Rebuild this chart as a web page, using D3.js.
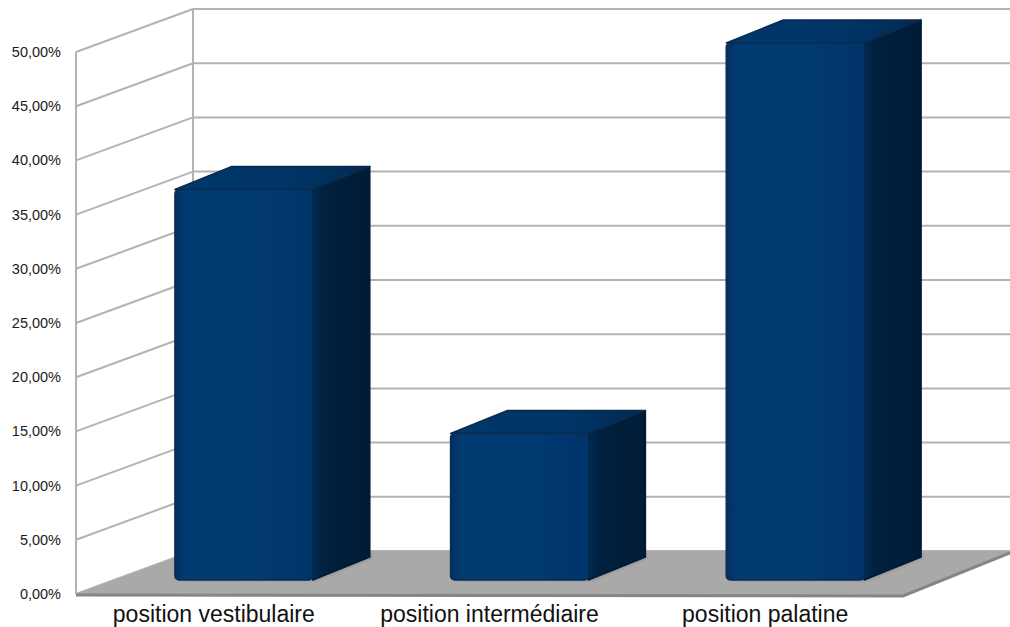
<!DOCTYPE html>
<html>
<head>
<meta charset="utf-8">
<script src="https://cdn.jsdelivr.net/npm/d3@7"></script>
<style>
  body { margin: 0; background: #fff; }
  svg { display: block; }
</style>
</head>
<body>
<div id="plot"></div>
<script>
var categories = ['position vestibulaire', 'position intermédiaire', 'position palatine']
var values = [36.36, 13.64, 50.0]
var tickValues = [0, 5, 10, 15, 20, 25, 30, 35, 40, 45, 50]
var tickLabels = ['0,00%', '5,00%', '10,00%', '15,00%', '20,00%', '25,00%',
  '30,00%', '35,00%', '40,00%', '45,00%', '50,00%']

var width = 1010
var height = 627

// 3d offsets
var wallDx = 117, wallDy = -43
var barShift = 30
var barDx = 57, barDy = -23

var xScale = d3.scaleBand()
  .domain(categories)
  .range([76, 903])
  .paddingInner(0.5)
  .paddingOuter(0.25)

// front plane of the chart
var yScale = d3.scaleLinear().domain([0, 50]).range([594, 52])
// plane where the bar fronts sit
var yBar = d3.scaleLinear().domain([0, 50]).range([580, 43])

var svg = d3.select('#plot')
  .append('svg')
  .attr('width', width)
  .attr('height', height)
  .style('font-family', 'Liberation Sans, Arial, sans-serif')

var defs = svg.append('defs')
function grad(id, stops) {
  var g = defs.append('linearGradient').attr('id', id)
    .attr('x1', 0).attr('x2', 1).attr('y1', 0).attr('y2', 0)
  stops.forEach(function(s) {
    g.append('stop').attr('offset', s[0]).attr('stop-color', s[1])
  })
}
grad('gFront', [[0, '#00315f'], [0.08, '#023b72'], [0.6, '#013a71'], [1, '#00346a']])
grad('gSide', [[0, '#022a52'], [0.2, '#00213f'], [1, '#001b36']])
grad('gTop', [[0, '#00386c'], [0.6, '#003566'], [1, '#002a52']])

var x0 = xScale.range()[0], x1 = xScale.range()[1]
var backX = x0 + wallDx

// grid: left wall diagonals + back wall lines
var grid = svg.append('g')
  .attr('stroke', '#b3b3b3')
  .attr('stroke-width', 2)
  .attr('fill', 'none')

grid.selectAll('.diag')
  .data(tickValues)
  .enter()
  .append('line')
  .attr('x1', x0)
  .attr('y1', function(d) { return yScale(d) })
  .attr('x2', backX)
  .attr('y2', function(d) { return yScale(d) + wallDy })

grid.selectAll('.back')
  .data(tickValues)
  .enter()
  .append('line')
  .attr('x1', backX)
  .attr('y1', function(d) { return yScale(d) + wallDy })
  .attr('x2', width)
  .attr('y2', function(d) { return yScale(d) + wallDy })

grid.append('line')
  .attr('x1', x0).attr('x2', x0)
  .attr('y1', yScale(0)).attr('y2', yScale(50))
grid.append('line')
  .attr('x1', backX).attr('x2', backX)
  .attr('y1', yScale(0) + wallDy).attr('y2', yScale(50) + wallDy)

// floor
var floorPts = [
  [x0, yScale(0)],
  [x1, yScale(0) + 2],
  [width, yScale(0) + wallDy + 2],
  [width, yScale(0) + wallDy],
  [backX, yScale(0) + wallDy]
]
svg.append('polygon')
  .attr('points', floorPts.map(function(p) { return p.join(',') }).join(' '))
  .attr('fill', '#a9a9a9')

svg.append('path')
  .attr('d', 'M' + x0 + ',' + (yScale(0) + 1) + 'L' + x1 + ',' + (yScale(0) + 2) +
    'L' + width + ',' + (yScale(0) + wallDy + 2))
  .attr('fill', 'none')
  .attr('stroke', '#858585')
  .attr('stroke-width', 3)

// bars
var bars = svg.selectAll('.bar')
  .data(values)
  .enter()
  .append('g')
  .attr('class', 'bar')

function pts(arr) {
  return arr.map(function(p) { return p[0].toFixed(1) + ',' + p[1].toFixed(1) }).join(' ')
}

bars.each(function(d, i) {
  var g = d3.select(this)
  var bx = xScale(categories[i]) + barShift
  var bw = xScale.bandwidth()
  var top = yBar(d)
  var base = yBar(0)

  // soft shadow on the floor
  g.append('polygon')
    .attr('points', pts([[bx + 2, base + 2], [bx + bw + 4, base + 2],
      [bx + bw + barDx + 3, base + barDy + 2], [bx + bw + barDx + 3, base + barDy - 4]]))
    .attr('fill', '#999')
    .attr('opacity', 0.6)

  g.append('polygon')
    .attr('points', pts([[bx + bw, top], [bx + bw + barDx, top + barDy],
      [bx + bw + barDx, base + barDy], [bx + bw, base]]))
    .attr('fill', 'url(#gSide)')
    .attr('stroke', '#001a33')
    .attr('stroke-width', 1.5)
    .attr('stroke-linejoin', 'round')

  g.append('polygon')
    .attr('points', pts([[bx, top], [bx + barDx, top + barDy],
      [bx + bw + barDx, top + barDy], [bx + bw, top]]))
    .attr('fill', 'url(#gTop)')
    .attr('stroke', '#0a2a4d')
    .attr('stroke-width', 1.5)
    .attr('stroke-linejoin', 'round')

  g.append('rect')
    .attr('x', bx)
    .attr('y', top)
    .attr('width', bw)
    .attr('height', base - top)
    .attr('rx', 4)
    .attr('fill', 'url(#gFront)')
    .attr('stroke', '#0b2c52')
    .attr('stroke-width', 1.5)
})

// y labels
svg.append('g')
  .selectAll('text')
  .data(tickValues)
  .enter()
  .append('text')
  .attr('x', 61)
  .attr('y', function(d) { return yScale(d) })
  .attr('dy', '0.35em')
  .attr('text-anchor', 'end')
  .attr('font-size', 14.5)
  .attr('fill', '#1a1a1a')
  .text(function(d, i) { return tickLabels[i] })

// category labels
svg.append('g')
  .selectAll('text')
  .data(categories)
  .enter()
  .append('text')
  .attr('x', function(d) { return xScale(d) + xScale.bandwidth() / 2 })
  .attr('y', 622)
  .attr('text-anchor', 'middle')
  .attr('font-size', 23)
  .attr('fill', '#111')
  .text(function(d) { return d })
</script>
</body>
</html>
